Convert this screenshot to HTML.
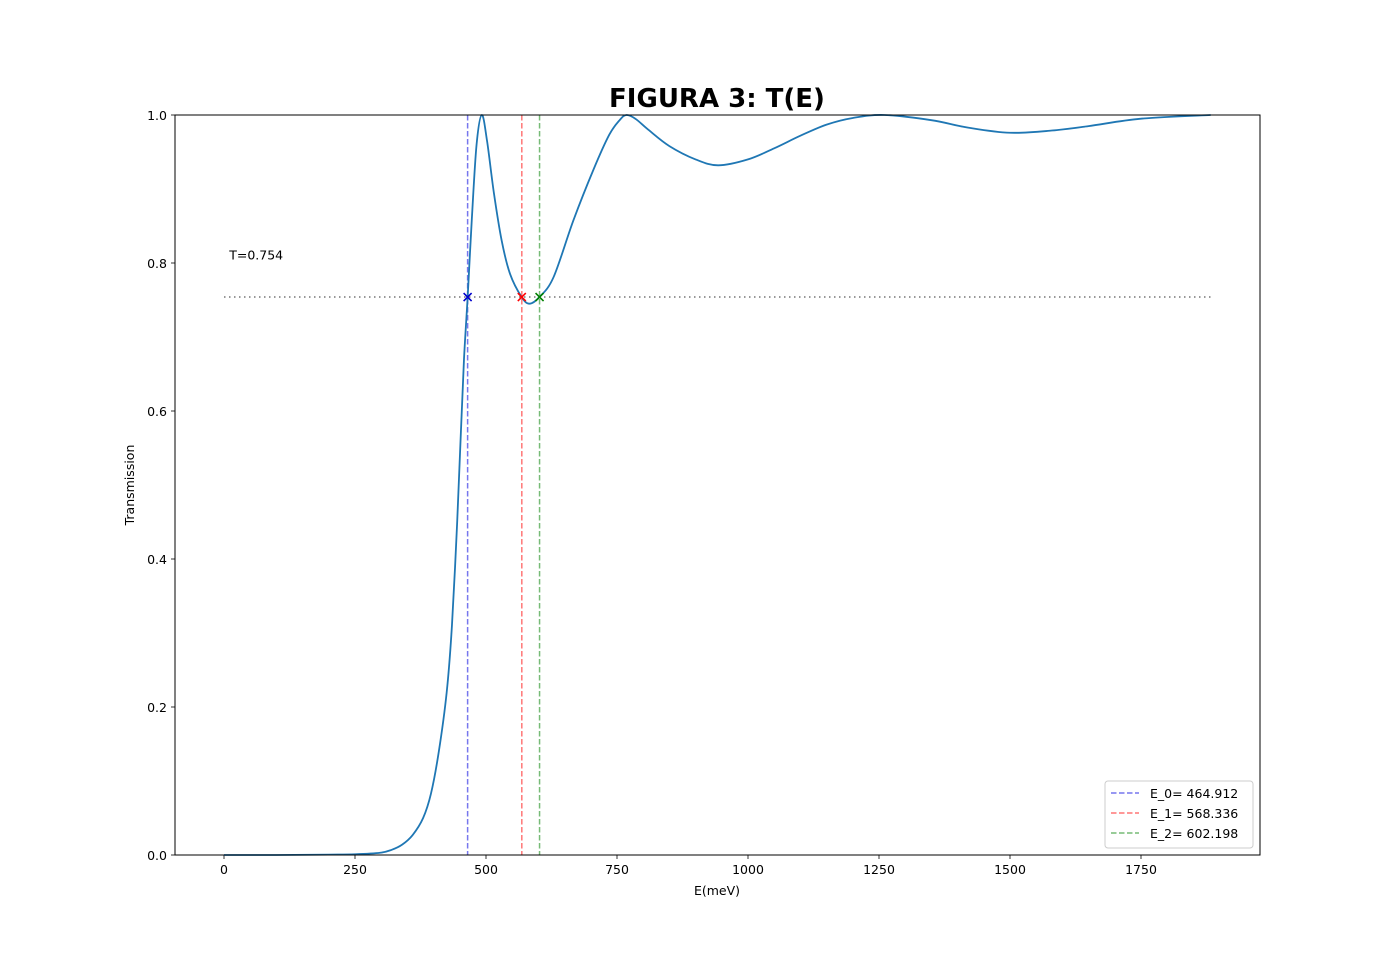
<!DOCTYPE html>
<html><head><meta charset="utf-8"><style>
body{margin:0;background:#fff;font-family:"Liberation Sans","DejaVu Sans",sans-serif}
svg text{font-family:"DejaVu Sans","Liberation Sans",sans-serif}
</style></head><body>
<svg id="chart" width="1400" height="961" xmlns="http://www.w3.org/2000/svg">
<rect width="1400" height="961" fill="#fff"/>
<text x="717" y="107" text-anchor="middle" font-size="26" font-weight="bold">FIGURA 3: T(E)</text>
<g id="plot"></g>
</svg>
<script>
const energies=[0,100,200,250,298,320,340,360,380,395,410,425,435,445,452,458,465,473,482,492,502,515,530,546,568,583,602,629,667,705,735,755,768,785,810,850,900,943,1000,1050,1100,1150,1200,1260,1350,1420,1500,1580,1650,1750,1883];
const trans=[0,0,0.0005,0.001,0.003,0.007,0.014,0.027,0.05,0.083,0.14,0.22,0.31,0.45,0.57,0.67,0.754,0.86,0.96,1.0,0.965,0.895,0.83,0.785,0.754,0.745,0.754,0.781,0.858,0.926,0.973,0.993,1.0,0.995,0.98,0.958,0.94,0.932,0.94,0.955,0.972,0.987,0.996,1.0,0.993,0.983,0.976,0.979,0.985,0.995,1.0];
const xTicks=[0,250,500,750,1000,1250,1500,1750];
const yTicks=[0,0.2,0.4,0.6,0.8,1.0];
const markerE=[464.912,568.336,602.198];
const markerLabels=["E_0= 464.912","E_1= 568.336","E_2= 602.198"];
const threshold=[0.754];
const L=175,R=1260,T=115,B=855;
const x=e=>224+e*0.524;
const y=t=>B-t*(B-T);
const NS="http://www.w3.org/2000/svg";
const g=document.getElementById('plot');
function mk(tag,attrs,parent){const el=document.createElementNS(NS,tag);for(const k in attrs)el.setAttribute(k,attrs[k]);(parent||g).appendChild(el);return el;}
xTicks.forEach(v=>{
 const t=mk('line',{x1:x(v),x2:x(v),y1:B,y2:B+4,stroke:'#000','stroke-width':0.8});
 
 
 const l=mk('text',{x:x(v),y:B+19,'text-anchor':'middle','font-size':12.5});l.textContent=v;
 
 
});
yTicks.forEach(v=>{
 const t=mk('line',{x1:L-4,x2:L,y1:y(v),y2:y(v),stroke:'#000','stroke-width':0.8});
 
 
 const l=mk('text',{x:L-8,y:y(v)+5,'text-anchor':'end','font-size':12.5});l.textContent=v.toFixed(1);
 
 
});
const xl=mk('text',{x:717,y:895,'text-anchor':'middle','font-size':12.5});xl.textContent='E(meV)';


const yl=mk('text',{x:134,y:485,'text-anchor':'middle','font-size':12.5,transform:'rotate(-90 134 485)'});yl.textContent='Transmission';


const th=mk('line',{x1:x(0),x2:x(1883),y1:y(threshold[0]),y2:y(threshold[0]),stroke:'#777','stroke-width':1.5,'stroke-dasharray':'1.5,3.5'});


const tt=mk('text',{x:x(10),y:y(0.81)+4,'font-size':12.5});tt.textContent='T='+threshold[0];


const cols=['#7777ee','#ff7777','#77bb77'];const mcols=['#0000cc','#ff0000','#008000'];
markerE.forEach((e,i)=>{
 const v=mk('line',{x1:x(e),x2:x(e),y1:T,y2:B,stroke:cols[i],'stroke-width':1.5,'stroke-dasharray':'5.5,2.5'});
 
 
});
const P=energies.map((e,i)=>[x(e),y(trans[i])]);
let d='M'+P[0][0]+','+P[0][1];
for(let i=0;i<P.length-1;i++){const p0=P[Math.max(0,i-1)],p1=P[i],p2=P[i+1],p3=P[Math.min(P.length-1,i+2)];
 d+=' C'+(p1[0]+(p2[0]-p0[0])/6)+','+(p1[1]+(p2[1]-p0[1])/6)+' '+(p2[0]-(p3[0]-p1[0])/6)+','+(p2[1]-(p3[1]-p1[1])/6)+' '+p2[0]+','+p2[1];}
const c=mk('path',{d:d,fill:'none',stroke:'#1f77b4','stroke-width':1.8});


markerE.forEach((e,i)=>{
 const cx=x(e),cy=y(threshold[0]);
 const m=mk('path',{d:`M${cx-4},${cy-4}L${cx+4},${cy+4}M${cx-4},${cy+4}L${cx+4},${cy-4}`,stroke:mcols[i],'stroke-width':1.6});
 
 
});
const f=mk('rect',{x:L,y:T,width:R-L,height:B-T,fill:'none',stroke:'#000','stroke-width':1});


const lg=mk('g',{});


mk('rect',{x:1105,y:781,width:148,height:67,rx:3,fill:'#fff',stroke:'#ccc'},lg);
markerLabels.forEach((s,i)=>{
 const yy=793+i*20;
 const ln=mk('line',{x1:1111,x2:1139,y1:yy,y2:yy,stroke:cols[i],'stroke-width':1.5,'stroke-dasharray':'5.5,2.5'},lg);
 
 
 const t=mk('text',{x:1150,y:yy+5,'font-size':12.5},lg);t.textContent=s;
 
 
});
</script>
</body></html>
